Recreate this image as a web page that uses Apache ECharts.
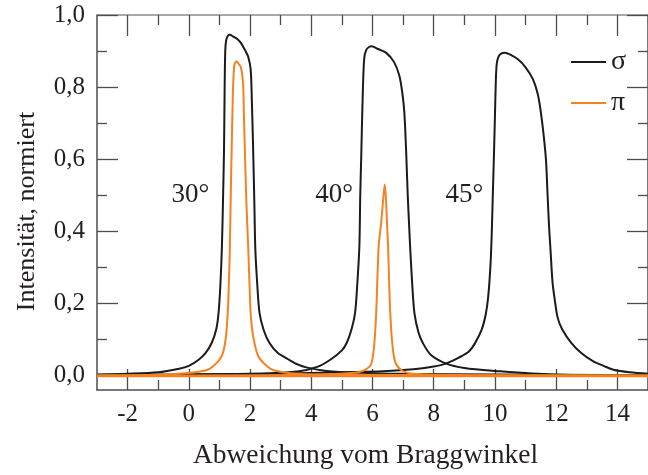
<!DOCTYPE html>
<html>
<head>
<meta charset="utf-8">
<script src="https://cdn.jsdelivr.net/npm/echarts@6/dist/echarts.min.js"></script>
<style>
  html, body { margin: 0; padding: 0; background: #fff; }
  #chart { width: 648px; height: 475px; }
</style>
</head>
<body>
<div id="chart"></div>
<script>
// Reflectivity curves vs. deviation from the Bragg angle, [deviation, intensity]
const sigma30 = [[-3,0.003],[-2,0.005],[-1,0.009],[-0.32,0.019],[0,0.027],[0.32,0.044],[0.55,0.063],[0.75,0.091],[0.9,0.13],[0.97,0.173],[1.03,0.25],[1.08,0.356],[1.12,0.5],[1.15,0.63],[1.17,0.8],[1.19,0.9],[1.22,0.93],[1.28,0.943],[1.34,0.945],[1.45,0.94],[1.6,0.932],[1.72,0.92],[1.85,0.9],[1.94,0.884],[2.02,0.849],[2.06,0.758],[2.1,0.63],[2.14,0.48],[2.17,0.356],[2.23,0.26],[2.31,0.173],[2.45,0.125],[2.63,0.091],[2.9,0.063],[3.23,0.046],[3.55,0.031],[3.87,0.022],[4.5,0.013],[5.5,0.008],[7,0.005],[10,0.003],[15,0.001]];
const pi30 = [[-3,0],[-1,0.002],[-0.32,0.005],[0.54,0.014],[0.85,0.03],[1.08,0.055],[1.2,0.1],[1.27,0.173],[1.31,0.26],[1.34,0.356],[1.37,0.5],[1.4,0.63],[1.43,0.75],[1.45,0.81],[1.49,0.862],[1.56,0.872],[1.6,0.868],[1.7,0.855],[1.77,0.813],[1.8,0.72],[1.83,0.63],[1.88,0.48],[1.94,0.356],[1.98,0.26],[2.02,0.173],[2.1,0.11],[2.26,0.055],[2.5,0.03],[2.8,0.014],[3.55,0.005],[5,0.002],[15,0]];
const sigma40 = [[-3,0.001],[0,0.003],[2.5,0.006],[3.55,0.011],[4.19,0.024],[4.62,0.044],[5.0,0.07],[5.16,0.091],[5.32,0.13],[5.43,0.173],[5.5,0.25],[5.57,0.356],[5.6,0.5],[5.63,0.6],[5.68,0.776],[5.73,0.88],[5.8,0.904],[5.9,0.912],[5.97,0.913],[6.2,0.905],[6.45,0.895],[6.7,0.87],[6.88,0.831],[6.98,0.78],[7.04,0.73],[7.1,0.62],[7.15,0.502],[7.2,0.41],[7.23,0.356],[7.3,0.25],[7.37,0.173],[7.5,0.12],[7.64,0.091],[7.9,0.058],[8.39,0.034],[9.0,0.021],[10,0.013],[11.9,0.003],[15,0]];
const pi40 = [[-3,0],[2,0.001],[4.5,0.003],[5.53,0.009],[5.8,0.018],[5.96,0.032],[6.05,0.08],[6.12,0.173],[6.2,0.356],[6.29,0.43],[6.35,0.49],[6.4,0.53],[6.44,0.49],[6.48,0.41],[6.51,0.356],[6.58,0.173],[6.67,0.07],[6.77,0.032],[7.0,0.012],[7.31,0.005],[9,0.001],[15,0]];
const sigma45 = [[-3,0.001],[0,0.003],[3,0.006],[5,0.009],[6.5,0.013],[7.42,0.018],[8.0,0.025],[8.39,0.033],[8.82,0.05],[9.14,0.066],[9.35,0.09],[9.57,0.128],[9.7,0.17],[9.78,0.219],[9.85,0.3],[9.89,0.38],[9.93,0.5],[9.97,0.62],[10.0,0.72],[10.03,0.82],[10.06,0.865],[10.12,0.885],[10.2,0.893],[10.32,0.895],[10.5,0.89],[10.75,0.877],[11.0,0.855],[11.24,0.822],[11.4,0.78],[11.5,0.73],[11.6,0.66],[11.67,0.594],[11.72,0.5],[11.77,0.41],[11.81,0.356],[11.88,0.26],[11.94,0.219],[12.05,0.16],[12.2,0.128],[12.5,0.09],[12.8,0.064],[13.2,0.04],[13.55,0.027],[13.87,0.016],[14.4,0.009],[15,0.005]];
const pi45 = [[-3,-0.002],[5,-0.002],[10,-0.002],[15,-0.002]];

// Angle annotations
const angleNames = ['30°', '40°', '45°'];
const angleX = [0.05, 4.75, 9.0];
const angleY = [0.5, 0.5, 0.5];

// Axis ticks
const xMajor = [-2, 0, 2, 4, 6, 8, 10, 12, 14];
const xMinor = [-1, 1, 3, 5, 7, 9, 11, 13, 15];
const yMajor = [0, 0.2, 0.4, 0.6, 0.8, 1.0];
const yMinor = [0.1, 0.3, 0.5, 0.7, 0.9];

const X_MIN = -3, X_MAX = 15, Y_MIN = -0.04, Y_MAX = 1.0;
const FONT = '"Liberation Serif", "Times New Roman", serif';
const INK = '#231f20';
const AXIS = '#4d4d4d';
const BLACK = '#1c1a1b';
const ORANGE = '#f58220';

function xAxisDef(pos, ticks, len, withLabels, lineColor) {
  return {
    type: 'value', position: pos, min: X_MIN, max: X_MAX,
    axisLine: { show: !!lineColor, onZero: false, lineStyle: { color: lineColor || AXIS, width: 1.5 } },
    axisTick: { show: true, inside: true, length: len, customValues: ticks, lineStyle: { color: AXIS, width: 1.3 } },
    axisLabel: withLabels ? {
      show: true, customValues: ticks, margin: 12,
      fontFamily: FONT, fontSize: 25, color: INK,
      formatter: v => String(v)
    } : { show: false },
    splitLine: { show: false }
  };
}
function yAxisDef(pos, ticks, len, withLabels, lineColor) {
  return {
    type: 'value', position: pos, min: Y_MIN, max: Y_MAX,
    axisLine: { show: !!lineColor, onZero: false, lineStyle: { color: lineColor || AXIS, width: 1.5 } },
    axisTick: { show: true, inside: true, length: len, customValues: ticks, lineStyle: { color: AXIS, width: 1.3 } },
    axisLabel: withLabels ? {
      show: true, customValues: ticks, margin: 12,
      fontFamily: FONT, fontSize: 25, color: INK,
      formatter: v => v.toFixed(1).replace('.', ',')
    } : { show: false },
    splitLine: { show: false }
  };
}

const xAxes = [
  xAxisDef('bottom', xMajor, 21, true, AXIS),
  xAxisDef('bottom', xMinor, 10, false, null),
  xAxisDef('top', xMajor, 21, false, '#8c8c8c'),
  xAxisDef('top', xMinor, 10, false, null)
];
Object.assign(xAxes[0], {
  name: 'Abweichung vom Braggwinkel', nameLocation: 'middle', nameGap: 52,
  nameTextStyle: { fontFamily: FONT, fontSize: 27.5, color: INK, padding: [0, 14, 0, 0] }
});
const yAxes = [
  yAxisDef('left', yMajor, 21, true, AXIS),
  yAxisDef('left', yMinor, 10, false, null),
  yAxisDef('right', yMajor, 21, false, AXIS),
  yAxisDef('right', yMinor, 10, false, null)
];
Object.assign(yAxes[0], {
  name: 'Intensität, normiert', nameLocation: 'middle', nameGap: 57,
  nameTextStyle: { fontFamily: FONT, fontSize: 26, color: INK, padding: [0, 18, 0, 0] }
});

function curve(name, data, color) {
  return {
    type: 'line', name, data, xAxisIndex: 0, yAxisIndex: 0,
    symbol: 'none', smooth: 0.3, silent: true,
    lineStyle: { color, width: 2 }, itemStyle: { color },
    z: color === ORANGE ? 3 : 2
  };
}

const chart = echarts.init(document.getElementById('chart'), null, { renderer: 'canvas' });
chart.setOption({
  animation: false,
  backgroundColor: '#fff',
  grid: { left: 97, right: -7, top: 15, bottom: 81, containLabel: false },
  xAxis: xAxes,
  yAxis: yAxes,
  legend: {
    orient: 'vertical', left: 566, top: 43,
    data: ['σ', 'π'], icon: 'rect', itemWidth: 35, itemHeight: 2, itemGap: 13,
    textStyle: { fontFamily: FONT, fontSize: 28, color: INK, padding: [0, 0, 0, 0] },
    selectedMode: false
  },
  series: [
    curve('σ', sigma30, BLACK),
    curve('σ', sigma40, BLACK),
    curve('σ', sigma45, BLACK),
    curve('π', pi30, ORANGE),
    curve('π', pi40, ORANGE),
    curve('π', pi45, ORANGE),
    {
      type: 'scatter', name: 'angles', silent: true, symbolSize: 0,
      itemStyle: { opacity: 0 },
      data: angleNames.map((t, i) => [angleX[i], angleY[i], t]),
      label: {
        show: true, position: 'inside', formatter: p => p.data[2],
        fontFamily: FONT, fontSize: 27, color: INK, opacity: 1,
        textBorderWidth: 0
      }
    }
  ]
});
</script>
</body>
</html>
